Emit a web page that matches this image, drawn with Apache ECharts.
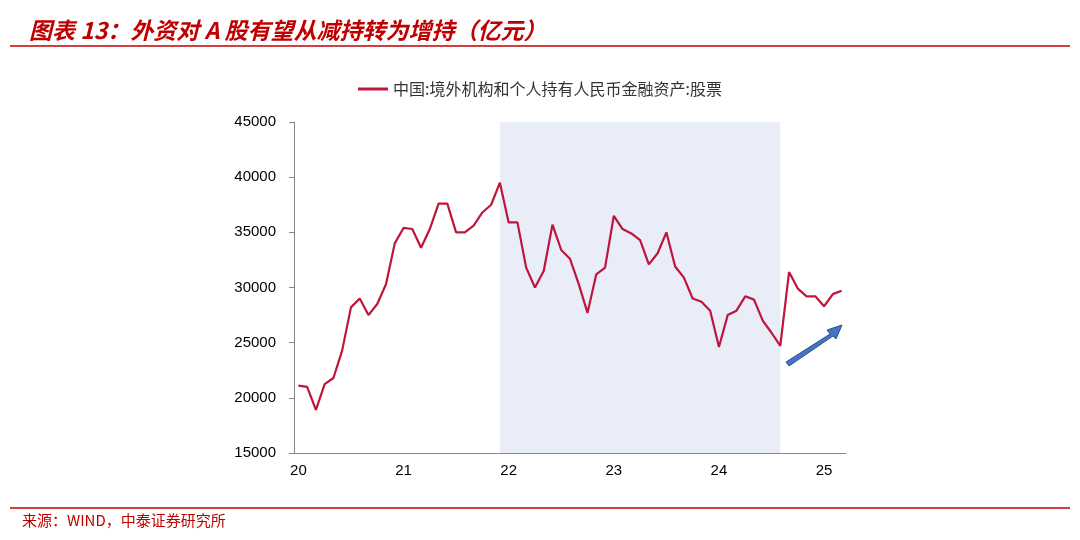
<!DOCTYPE html>
<html><head><meta charset="utf-8">
<script src="https://cdn.jsdelivr.net/npm/echarts@6/dist/echarts.min.js"></script>
<style>html,body{margin:0;padding:0;background:#fff}#c{width:1080px;height:540px}</style>
</head><body><div id="c"></div>
<script>
const months = [];
for (let y = 2020; y <= 2025; y++) for (let m = 1; m <= 12; m++) { if (y === 2025 && m > 3) break; months.push(y + '-' + String(m).padStart(2, '0')); }
const seriesName = '中国:境外机构和个人持有人民币金融资产:股票';
const values = [21100,21000,18900,21250,21800,24300,28200,29000,27500,28500,30300,34000,
35400,35300,33600,35300,37600,37600,35000,35000,35600,36800,37500,39500,
35900,35900,31800,30000,31500,35700,33400,32600,30300,27700,31200,31800,
36500,35300,34900,34300,32100,33100,35000,31900,30900,29000,28700,27900,
24600,27500,27900,29200,28900,27000,25900,24700,31400,29900,29200,29200,
28300,29400,29700];
const shadeRange = ['2021-12', '2024-08'];
const yTicks = [15000, 45000, 5000];

const chart = echarts.init(document.getElementById('c'));
chart.setOption({
  animation: false,
  title: { text: '图表 13：外资对 A 股有望从减持转为增持（亿元）', left: 24, top: 14,
    textStyle: { color: '#c00000', fontSize: 23, fontStyle: 'italic', fontWeight: 'bold', fontFamily: 'Noto Sans CJK SC' } },
  legend: { top: 76, left: 'center', itemWidth: 30, itemHeight: 3, icon: 'rect',
    textStyle: { fontSize: 16, color: '#333', fontFamily: 'Noto Sans CJK SC' }, data: [seriesName] },
  grid: { left: 294, right: 234, top: 122, bottom: 87 },
  xAxis: { type: 'category', data: months, boundaryGap: true,
    axisLine: { lineStyle: { color: '#888' } },
    axisTick: { interval: (i) => i % 12 === 0, length: 5, lineStyle: { color: '#888' } },
    axisLabel: { interval: (i) => i % 12 === 0, formatter: v => v.slice(2, 4), fontSize: 15, color: '#000', fontFamily: 'Arial', margin: 10 } },
  yAxis: { type: 'value', min: yTicks[0], max: yTicks[1], interval: yTicks[2],
    axisLine: { show: true, lineStyle: { color: '#888' } },
    axisTick: { show: true, length: 5, lineStyle: { color: '#888' } },
    splitLine: { show: false },
    axisLabel: { formatter: v => String(v), fontSize: 15, color: '#000', fontFamily: 'Arial', margin: 18 } },
  series: [{ name: seriesName, type: 'line', data: values, symbol: 'none',
    lineStyle: { color: '#c0143c', width: 2.2 }, itemStyle: { color: '#c0143c' },
    markArea: { silent: true, itemStyle: { color: 'rgba(205,215,240,0.45)' },
      data: [[{ xAxis: shadeRange[0] }, { xAxis: shadeRange[1] }]] } }],
  graphic: [
    { type: 'line', shape: { x1: 10, y1: 46, x2: 1070, y2: 46 }, style: { stroke: '#c00000', lineWidth: 1.5 } },
    { type: 'line', shape: { x1: 10, y1: 508, x2: 1070, y2: 508 }, style: { stroke: '#c00000', lineWidth: 1.5 } },
    { type: 'text', left: 22, top: 513, style: { text: '来源：WIND，中泰证券研究所', fill: '#c00000', font: '15px "Noto Sans CJK SC"' } },
    { type: 'polygon', shape: { points: [[786,362],[830,334],[827,330],[842,325],[836,339],[833,336],[789,366]] },
      style: { fill: '#4472c4', stroke: '#2f528f', lineWidth: 1 } }
  ]
});
</script></body></html>
